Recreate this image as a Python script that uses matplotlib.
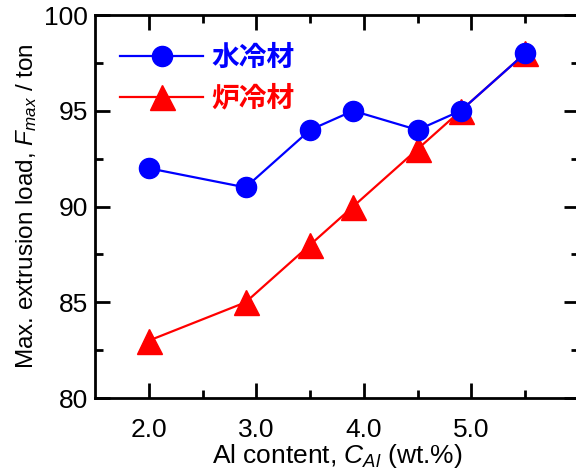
import matplotlib
matplotlib.use("Agg")
import matplotlib.pyplot as plt

# Al content (wt.%) and max extrusion load (ton)
al_content = [2.0, 2.9, 3.5, 3.9, 4.5, 4.9, 5.5]
load_water = [92, 91, 94, 95, 94, 95, 98]
load_furnace = [83, 85, 88, 90, 93, 95, 98]
series_names = ["水冷材", "炉冷材"]
xticks = [2.0, 3.0, 4.0, 5.0]
yticks = [80, 85, 90, 95, 100]

plt.rcParams["font.family"] = ["Liberation Sans", "DejaVu Sans"]
plt.rcParams["mathtext.fontset"] = "custom"
plt.rcParams["mathtext.it"] = "Liberation Sans:italic"
plt.rcParams["mathtext.rm"] = "Liberation Sans"

fig = plt.figure(figsize=(5.76, 4.70), dpi=100)
ax = fig.add_axes([0.165, 0.153, 0.840, 0.815])

ax.plot(al_content, load_water, "-o", color="#0000ff", lw=1.6, ms=14.5,
        label=series_names[0], zorder=3)
ax.plot(al_content, load_furnace, "-^", color="#ff0000", lw=1.6, ms=18,
        label=series_names[1], zorder=2)

ax.set_xlim(1.5, 6.0)
ax.set_ylim(80, 100)
ax.set_xticks(xticks)
ax.set_xticklabels(["%.1f" % v for v in xticks])
ax.set_xticks([2.5, 3.5, 4.5, 5.5], minor=True)
ax.set_yticks(yticks)
ax.set_yticks([82.5, 87.5, 92.5, 97.5], minor=True)
ax.tick_params(which="both", direction="in", top=True, right=True, width=2,
               labelsize=19, pad=5)
ax.tick_params(axis="x", which="major", pad=14)
ax.tick_params(which="major", length=11)
ax.tick_params(which="minor", length=6)
for s in ax.spines.values():
    s.set_linewidth(2)

ax.set_xlabel(r"Al content, $C_{Al}$ (wt.%)", fontsize=19, labelpad=0)
ax.set_ylabel(r"Max. extrusion load, $F_{max}$ / ton", fontsize=17.5, labelpad=4)

leg = ax.legend(loc="upper left", bbox_to_anchor=(0.0, 0.99), frameon=False,
                handlelength=3.0, handletextpad=0.3, labelspacing=0.45,
                prop={"family": ["Noto Sans CJK JP"], "weight": "bold", "size": 20})
for t, c in zip(leg.get_texts(), ["#0000ff", "#ff0000"]):
    t.set_color(c)

fig.savefig("out.png", dpi=100)
